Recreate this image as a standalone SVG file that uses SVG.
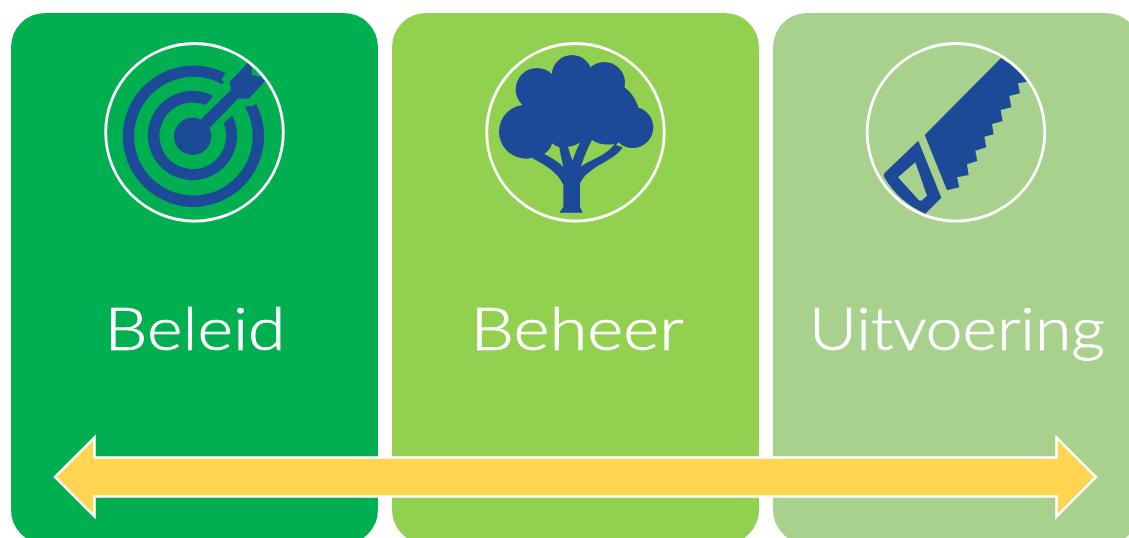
<svg xmlns="http://www.w3.org/2000/svg" width="1129" height="538" viewBox="0 0 1129 538">
<style>
.ring{fill:none;stroke:#fff;stroke-width:2.800}
.ic{fill:#1D4A98}
.lb{font-family:"Lato","Liberation Sans",sans-serif;font-weight:300;font-size:60px;fill:#fff;stroke:#fff;stroke-width:.7}
</style>
<rect width="1129" height="538" fill="#fff"/>
<g id="node-beleid">
<rect x="11" y="13" width="367" height="531" rx="34" fill="#00AF50"/>
<circle class="ring" cx="194.500" cy="132.300" r="88.800"/>
<g class="ic" transform="translate(95 30) scale(.33333)">
<circle cx="293" cy="319" r="56"/>
<path d="M392 130A212 212 0 1 0 484 222L470 228L448 230L453 236A178 178 0 1 1 380 162L387 160L380 146L392 130Z"/>
<path d="M355 198A134 134 0 1 0 412 256L388 278L387 282A100 100 0 1 1 332 225Z"/>
<path d="M318 268L408 180L404 155L458 100L471 113L470 135L497 140L510 154L462 205L435 207L430 205L345 293Z"/>
</g>
<text class="lb" x="195" y="350" text-anchor="middle" textLength="181" lengthAdjust="spacingAndGlyphs">Beleid</text>
</g>
<g id="node-beheer">
<rect x="392" y="13" width="367" height="531" rx="34" fill="#92D14F"/>
<circle class="ring" cx="575.500" cy="132.300" r="88.800"/>
<g transform="translate(476 30) scale(.33333)">
<g class="ic">
<circle cx="183" cy="178" r="64"/><circle cx="150" cy="305" r="81"/><circle cx="288" cy="136" r="61"/>
<circle cx="385" cy="158" r="62"/><circle cx="470" cy="292" r="62"/>
<path d="M183 178L288 136L385 158L445 172Q472 190 487 230L470 292L420 345L440 352C415 395 340 405 312 460L312 530L320 548L250 548L262 530L262 465C245 425 205 405 170 385L150 305Z"/>
</g>
<path fill="#92D14F" d="M228 340C225 355 215 365 205 372C230 385 250 397 262 412C258 390 252 370 250 352C242 350 235 346 228 340Z"/>
<path fill="#92D14F" d="M276 350C280 365 285 380 290 392C295 375 303 355 312 338C300 345 288 349 276 350Z"/>
<path fill="#92D14F" d="M348 330C335 355 322 385 315 410C340 390 395 375 415 342C390 346 365 342 348 330Z"/>
</g>
<text class="lb" x="577" y="350" text-anchor="middle" textLength="213" lengthAdjust="spacingAndGlyphs">Beheer</text>
</g>
<g id="node-uitvoering">
<rect x="773" y="13" width="367" height="531" rx="34" fill="#A9D18E"/>
<circle class="ring" cx="956" cy="132.300" r="88.800"/>
<g class="ic" transform="translate(857 30) scale(.33333)">
<path d="M203 315L432 84A260 260 0 0 1 510 155L483 160L489 190L457 198L463 232L431 240L437 273L405 282L410 313L382 320L388 352L355 362L361 393L330 403L335 435L300 442L307 472L270 481Z"/>
<path fill-rule="evenodd" d="M184 332L253 503L205 551A262 262 0 0 1 82 442Q78 433 85 427ZM175 397L123 442L185 510Q190 515 196 510L210 497Z"/>
</g>
<text class="lb" x="957" y="350" text-anchor="middle" textLength="296" lengthAdjust="spacingAndGlyphs">Uitvoering</text>
</g>
<g id="connectors">
<path d="M55 477L94.500 437.500V457.500H1056.500V437.500L1096 477L1056.500 516.500V496.500H94.500V516.500Z" fill="#FFD551" stroke="#fff" stroke-width="2.500"/>
</g>
</svg>
